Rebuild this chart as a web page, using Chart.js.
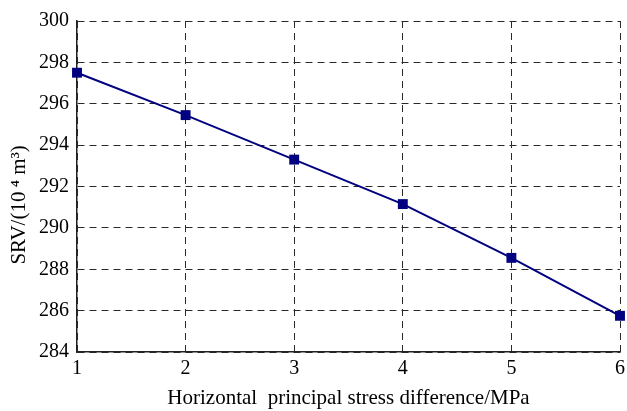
<!DOCTYPE html>
<html>
<head>
<meta charset="utf-8">
<script src="https://cdn.jsdelivr.net/npm/chart.js@4"></script>
<style>
    html, body { margin: 0; padding: 0; background: #ffffff; }
    #wrap { width: 627px; height: 411px; }
</style>
</head>
<body>
<div id="wrap"><canvas id="srvChart" width="627" height="411"></canvas></div>
<script>
// ======================================
// Data
// ======================================

const stressDiff = [1, 2, 3, 4, 5, 6];

const srvValues = [297.5, 295.45, 293.3, 291.15, 288.55, 285.75];

const yTicks = [284, 286, 288, 290, 292, 294, 296, 298, 300];

const xTitle = "Horizontal  principal stress difference/MPa";
// trailing spaces push the rotated title a bit lower, like the original
const yTitle = "SRV/(10\u2009\u2074 m\u00b3)       ";

// ======================================
// Styles
// ======================================

const navy = "#000080";
const gridColor = "#2a2a2a";
const font = "'Liberation Serif', 'Times New Roman', serif";

// ======================================
// Chart
// ======================================

const canvas = document.getElementById("srvChart");

new Chart(canvas, {

    type: "line",

    data: {

        datasets: [{

            data: stressDiff.map((x, i) => ({ x: x, y: srvValues[i] })),

            borderColor: navy,

            backgroundColor: navy,

            borderWidth: 2,

            pointStyle: "rect",

            pointRadius: 7,

            pointBorderWidth: 0,

            tension: 0,

            clip: false

        }]

    },

    options: {

        responsive: false,

        animation: false,

        layout: {

            padding: { top: 21, right: 3, left: 0, bottom: 0 }

        },

        plugins: {

            legend: { display: false },

            tooltip: { enabled: false }

        },

        scales: {

            x: {

                type: "linear",

                min: 1,

                max: 6,

                afterFit: (scale) => {

                    scale.height = 59;

                    scale.paddingLeft = 0;

                    scale.paddingRight = 0;

                },

                ticks: {

                    stepSize: 1,

                    color: "#000",

                    padding: 5,

                    font: { family: font, size: 20 }

                },

                grid: {

                    color: gridColor,

                    lineWidth: 1,

                    drawTicks: false

                },

                border: {

                    display: true,

                    color: "#222",

                    width: 1.5,

                    dash: [7, 5]

                },

                title: {

                    display: true,

                    text: xTitle,

                    color: "#000",

                    padding: { top: 0, bottom: 0 },

                    font: { family: font, size: 21 }

                }

            },

            y: {

                min: 284,

                max: 300,

                afterFit: (scale) => { scale.width = 77; },

                afterBuildTicks: (scale) => {

                    scale.ticks = yTicks.map(v => ({ value: v }));

                },

                ticks: {

                    color: "#000",

                    padding: 8,

                    font: { family: font, size: 20 }

                },

                grid: {

                    color: gridColor,

                    lineWidth: 1,

                    drawTicks: false

                },

                border: {

                    display: true,

                    color: "#222",

                    width: 1.5,

                    dash: [7, 5]

                },

                title: {

                    display: true,

                    text: yTitle,

                    color: "#000",

                    padding: { top: 7, bottom: 0 },

                    font: { family: font, size: 21 }

                }

            }

        }

    }

});
</script>
</body>
</html>
